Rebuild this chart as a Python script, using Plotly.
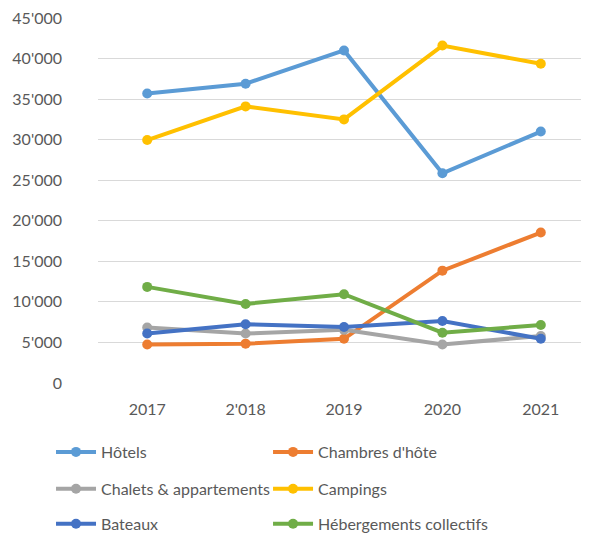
import plotly.graph_objects as go

years = ["2017", "2'018", "2019", "2020", "2021"]
hotels = [35700, 36900, 41000, 25850, 31000]
chambres = [4750, 4850, 5450, 13850, 18550]
chalets = [6850, 6100, 6550, 4750, 5800]
campings = [29950, 34100, 32500, 41600, 39350]
bateaux = [6100, 7250, 6900, 7650, 5450]
hebergements = [11850, 9750, 10950, 6200, 7150]

names = ["Hôtels", "Chambres d'hôte", "Chalets & appartements",
         "Campings", "Bateaux", "Hébergements collectifs"]
values = [hotels, chambres, chalets, campings, bateaux, hebergements]
colors = ["#5B9BD5", "#ED7D31", "#A5A5A5", "#FFC000", "#4472C4", "#70AD47"]

font_family = "Lato, 'Open Sans', sans-serif"
txt = "#595959"

fig = go.Figure()
legend_ids = ["legend", "legend2", "legend3", "legend4", "legend5", "legend6"]
for name, vals, col, lid in zip(names, values, colors, legend_ids):
    fig.add_trace(go.Scatter(
        x=years, y=vals, name=name, mode="lines+markers",
        line=dict(color=col, width=4),
        marker=dict(color=col, size=10),
        legend=lid,
    ))

col_x = [-0.0955, 0.3456]
row_y = [-0.189, -0.290, -0.386]
legends = {}
for i, lid in enumerate(legend_ids):
    legends[lid] = dict(
        orientation="h", x=col_x[i % 2], xanchor="left",
        y=row_y[i // 2], yanchor="middle",
        font=dict(size=16, color=txt, family=font_family),
        itemwidth=40, bgcolor="rgba(0,0,0,0)",
    )

fig.update_layout(
    width=589, height=533,
    margin=dict(l=90, r=7, t=10, b=158, autoexpand=False),
    paper_bgcolor="white", plot_bgcolor="white",
    separators=".'",
    font=dict(family=font_family, size=16, color=txt),
    showlegend=True,
    xaxis=dict(type="category", range=[-0.5, 4.5], showgrid=False,
               showline=False, ticks="", ticklabelstandoff=15,
               automargin=False,
               tickfont=dict(size=16, color=txt)),
    yaxis=dict(range=[0, 45000], dtick=5000, tickformat=",",
               gridcolor="#D9D9D9", gridwidth=1, zeroline=False,
               showline=False, ticks="", ticklabelstandoff=35,
               ticklabeloverflow="allow", automargin=False,
               tickfont=dict(size=16, color=txt)),
    **legends,
)

fig.write_html("out.html")
